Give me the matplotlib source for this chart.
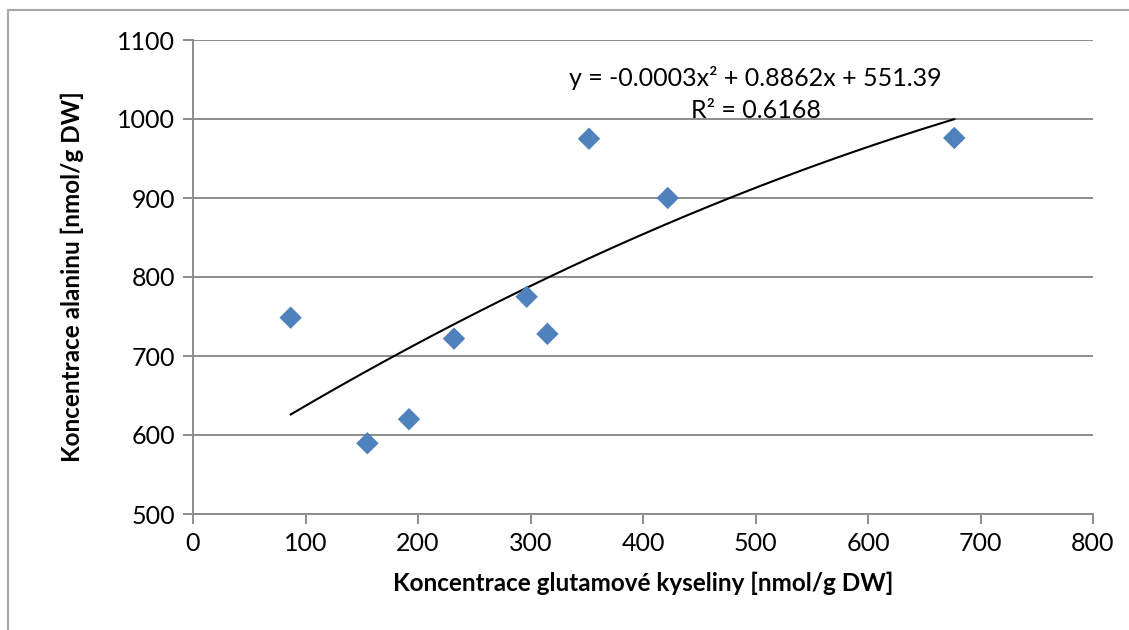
import matplotlib.pyplot as plt
import matplotlib.patches as patches
import numpy as np

plt.rcParams['font.family'] = ['Lato', 'DejaVu Sans']

# glutamová kyselina vs. alanin [nmol/g DW]
glu = [86.8, 155.0, 192.0, 232.0, 296.6, 315.0, 352.0, 422.0, 676.7]
ala = [748.5, 589.5, 620.0, 722.0, 775.0, 728.0, 975.0, 900.0, 976.0]
equation = "y = -0.0003x² + 0.8862x + 551.39"
r_squared = "R² = 0.6168"

x_ticks = np.arange(0, 801, 100)
y_ticks = np.arange(500, 1101, 100)

fig = plt.figure(figsize=(11.29, 6.3), dpi=100)
ax = fig.add_axes([193 / 1129, 116 / 630, 900 / 1129, 474 / 630])

grey = '#8c8c8c'
ax.set_xlim(0, 800)
ax.set_ylim(500, 1100)
ax.set_xticks(x_ticks)
ax.set_yticks(y_ticks)
ax.grid(axis='y', color=grey, linewidth=1.4)
ax.set_axisbelow(True)
for side in ['top', 'right']:
    ax.spines[side].set_visible(False)
for side in ['left', 'bottom']:
    ax.spines[side].set_color(grey)
    ax.spines[side].set_linewidth(1.4)
ax.tick_params(colors=grey, labelcolor='black', labelsize=18, length=7, width=1.4, pad=6)

ax.scatter(glu, ala, marker='D', s=130, color='#4f81bd', edgecolors='none', zorder=3)

# polynomiální trend 2. řádu
coef = np.polyfit(glu, ala, 2)
xs = np.linspace(min(glu), max(glu), 200)
ax.plot(xs, np.polyval(coef, xs), color='black', linewidth=1.5, zorder=2)

ax.text(500, 1052, equation, ha='center', va='center', fontsize=18)
ax.text(500, 1011, r_squared, ha='center', va='center', fontsize=18)

ax.set_xlabel("Koncentrace glutamové kyseliny [nmol/g DW]", fontsize=17.5, fontweight='bold', labelpad=12)
ax.set_ylabel("Koncentrace alaninu [nmol/g DW]", fontsize=17.5, fontweight='bold', labelpad=24)

# rámeček grafu
fig.patches.append(patches.Rectangle((7.5 / 1129, -0.1), 1.2, (620 + 63) / 630,
                                     transform=fig.transFigure, fill=False,
                                     edgecolor='#a6a6a6', linewidth=1.5))

fig.savefig('out.png', dpi=100)
